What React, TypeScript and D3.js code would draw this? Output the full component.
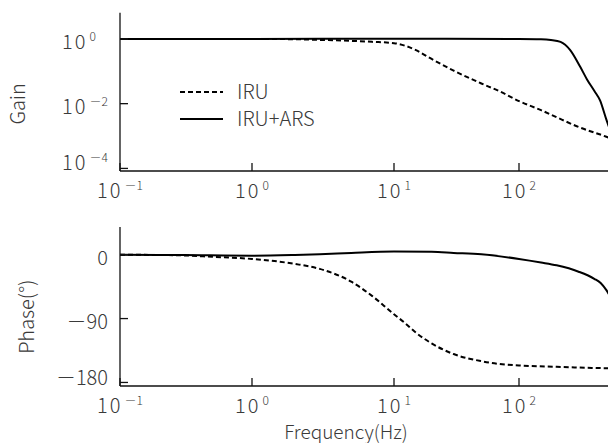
import React from "react";
import * as d3 from "d3";

// ---------- data ----------
const freqTicks = [0.1, 1, 10, 100];
const freqTickExp = ["－1", "0", "1", "2"];
const gainTicks = [1, 0.01, 0.0001];
const gainTickExp = ["0", "－2", "－4"];
const phaseTicks = [0, -90, -180];
const phaseTickLabels = ["0", "－90", "－180"];

const iruGainFreq = [0.1, 1, 2, 3, 5, 7, 10, 15, 20, 30, 50, 70, 100, 150, 200, 300, 500, 1000];
const iruGain = [1, 1, 0.977, 0.933, 0.871, 0.813, 0.74, 0.45, 0.24, 0.105, 0.042, 0.024, 0.012, 0.0063, 0.0038, 0.0019, 0.00095, 0.0003];

const arsGainFreq = [0.1, 1, 10, 100, 150, 180, 215, 256, 308, 350, 400, 445, 500, 600, 1000];
const arsGain = [1, 1, 1.02, 1, 0.98, 0.93, 0.81, 0.46, 0.14, 0.056, 0.025, 0.0126, 0.0032, 0.0005, 0.00001];

const iruPhaseFreq = [0.1, 0.3, 0.5, 1, 2, 3, 5, 7, 10, 12, 15, 20, 30, 50, 70, 100, 200, 500, 1000];
const iruPhase = [0, -1, -3, -6, -13, -20, -38, -58, -84, -95, -110, -125, -140, -150, -154, -156, -158, -160, -161];

const arsPhaseFreq = [0.1, 0.3, 1, 2, 3, 5, 10, 20, 30, 50, 100, 150, 200, 300, 400, 450, 500, 600];
const arsPhase = [0, -0.5, -1.5, -0.5, 0.5, 2.5, 4.5, 4, 2.5, 0.5, -6, -11, -15, -24, -34, -40, -50, -75];

const legendLabels = ["IRU", "IRU+ARS"];

// ---------- layout ----------
const W = 608;
const H = 443;
const X0 = 120;
const TOP = { top: 12.7, bottom: 171 };
const BOT = { top: 227, bottom: 386 };
const FONT = "'Noto Sans CJK JP', 'Noto Sans', sans-serif";
const TXT = "#3a3a3a";
const FW = 300;

const x = d3.scaleLog().domain([0.1, 1, 10, 100, 1000]).range([X0, 252, 394, 519, 644]);
const yGain = d3.scaleLog().domain([Math.pow(10, -4.08), Math.pow(10, 0.81)]).range([TOP.bottom, TOP.top]);
const yPhase = d3.scaleLinear().domain([-185, 39]).range([BOT.bottom, BOT.top]);

function mkLine(fs: number[], vs: number[], y: (v: number) => number) {
  const pts = fs.map((f, i) => [x(f), y(vs[i])] as [number, number]);
  return d3.line().curve(d3.curveMonotoneX)(pts) || "";
}

const DASH = "5,3";

function Pow({ exp }: { exp: string }) {
  return (
    <>
      10<tspan dx={2} dy={-8} fontSize={12} letterSpacing={0}>{exp}</tspan>
    </>
  );
}

export default function App() {
  const axisColor = "#111";
  return (
    <svg width={W} height={H} style={{ position: "absolute", left: 0, top: 0, background: "#fff" }} fontFamily={FONT} fontWeight={FW}>
      <defs>
        <clipPath id="clipTop">
          <rect x={X0} y={TOP.top} width={W - X0} height={TOP.bottom - TOP.top} />
        </clipPath>
        <clipPath id="clipBot">
          <rect x={X0} y={BOT.top} width={W - X0} height={BOT.bottom - BOT.top} />
        </clipPath>
      </defs>

      {/* ---- Top panel: Gain ---- */}
      <g clipPath="url(#clipTop)">
        <path d={mkLine(iruGainFreq, iruGain, yGain)} fill="none" stroke="#000" strokeWidth={2} strokeDasharray={DASH} />
        <path d={mkLine(arsGainFreq, arsGain, yGain)} fill="none" stroke="#000" strokeWidth={2} />
      </g>
      <line x1={X0} x2={X0} y1={TOP.top} y2={TOP.bottom} stroke={axisColor} strokeWidth={1.3} />
      <line x1={X0} x2={W} y1={TOP.bottom} y2={TOP.bottom} stroke={axisColor} strokeWidth={1.3} />
      {gainTicks.map((g, i) => (
        <g key={"gt" + i}>
          <line x1={X0} x2={X0 + 8} y1={yGain(g)} y2={yGain(g)} stroke={axisColor} strokeWidth={1.3} />
          <text x={62} y={Math.min(yGain(g) + 10, TOP.bottom - 1)} fontSize={20} fill={TXT} letterSpacing={2}>
            <Pow exp={gainTickExp[i]} />
          </text>
        </g>
      ))}
      {freqTicks.map((f, i) => (
        <g key={"ft" + i}>
          <line x1={x(f)} x2={x(f)} y1={TOP.bottom} y2={TOP.bottom - 8} stroke={axisColor} strokeWidth={1.3} />
          <text x={x(f)} y={TOP.bottom + 27} fontSize={20} fill={TXT} textAnchor="middle" letterSpacing={2}>
            <Pow exp={freqTickExp[i]} />
          </text>
        </g>
      ))}
      <text transform={`translate(25,${(TOP.top + TOP.bottom) / 2 + 12}) rotate(-90)`} textAnchor="middle" fontSize={20} fill={TXT}>
        Gain
      </text>

      {/* legend */}
      <line x1={180} x2={223} y1={92} y2={92} stroke="#000" strokeWidth={2} strokeDasharray={DASH} />
      <text x={237} y={99} fontSize={20} fill={TXT}>{legendLabels[0]}</text>
      <line x1={180} x2={223} y1={119} y2={119} stroke="#000" strokeWidth={2} />
      <text x={237} y={126} fontSize={20} fill={TXT}>{legendLabels[1]}</text>

      {/* ---- Bottom panel: Phase ---- */}
      <g clipPath="url(#clipBot)">
        <path d={mkLine(iruPhaseFreq, iruPhase, yPhase)} fill="none" stroke="#000" strokeWidth={2} strokeDasharray={DASH} />
        <path d={mkLine(arsPhaseFreq, arsPhase, yPhase)} fill="none" stroke="#000" strokeWidth={2} />
      </g>
      <line x1={X0} x2={X0} y1={BOT.top} y2={BOT.bottom} stroke={axisColor} strokeWidth={1.3} />
      <line x1={X0} x2={W} y1={BOT.bottom} y2={BOT.bottom} stroke={axisColor} strokeWidth={1.3} />
      {phaseTicks.map((p, i) => (
        <g key={"pt" + i}>
          <line x1={X0} x2={X0 + 8} y1={yPhase(p)} y2={yPhase(p)} stroke={axisColor} strokeWidth={1.3} />
          <text x={108} y={Math.min(yPhase(p) + 10, BOT.bottom - 1)} fontSize={20} fill={TXT} textAnchor="end" letterSpacing={0}>
            {phaseTickLabels[i]}
          </text>
        </g>
      ))}
      {freqTicks.map((f, i) => (
        <g key={"fb" + i}>
          <line x1={x(f)} x2={x(f)} y1={BOT.bottom} y2={BOT.bottom - 8} stroke={axisColor} strokeWidth={1.3} />
          <text x={x(f)} y={BOT.bottom + 27} fontSize={20} fill={TXT} textAnchor="middle" letterSpacing={2}>
            <Pow exp={freqTickExp[i]} />
          </text>
        </g>
      ))}
      <text transform={`translate(25,316.7) rotate(-90)`} textAnchor="middle" dominantBaseline="central" fontSize={20} fill={TXT}>
        Phase(°)
      </text>
      <text x={346} y={439} textAnchor="middle" fontSize={19} fill={TXT}>
        Frequency(Hz)
      </text>
    </svg>
  );
}
